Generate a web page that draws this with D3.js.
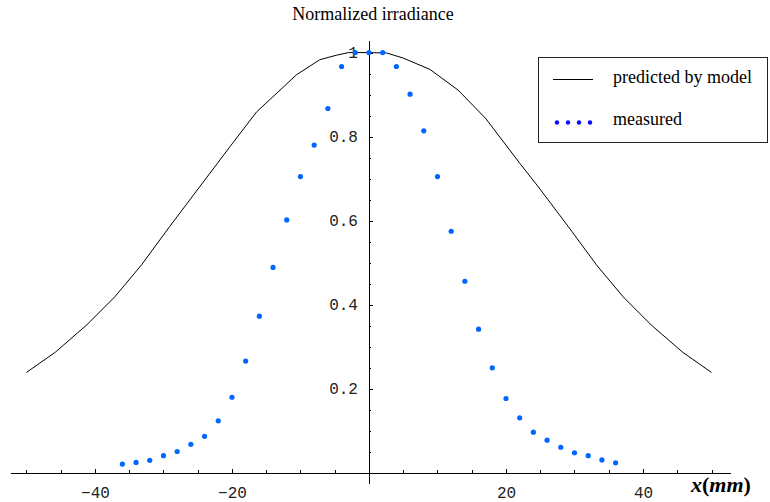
<!DOCTYPE html>
<html lang="en">
<head>
    <meta charset="utf-8">
    <title>Normalized irradiance</title>
    <style>
    html, body {
        margin: 0;
        background-color: white;
    }

    svg {
        background-color: white;
        display: block;
    }

    .axis path, .axis line {
        stroke: #000;
        shape-rendering: crispEdges;
    }

    .axis text {
        font-family: 'Liberation Mono', 'DejaVu Sans Mono', monospace;
        font-size: 16px;
        fill: #222;
    }

    .serif {
        font-family: 'Liberation Serif', 'Times New Roman', serif;
        fill: #000;
    }
    </style>
</head>
<body>
<div id="vis"></div>

<script src="https://d3js.org/d3.v7.min.js"></script>
<script>
var modelX = [-50, -45.8, -41.2, -37.1, -33.2, -29.1, -24.7, -20.3, -16.4, -12.7, -10.6, -7.2, -4.7, -3.0, 0,
              2.6, 5.0, 8.9, 13.0, 17.0, 22.0, 24.7, 29.1, 33.2, 37.1, 41.2, 45.8, 50];
var modelY = [0.239, 0.287, 0.352, 0.419, 0.495, 0.586, 0.681, 0.776, 0.859, 0.915, 0.947, 0.983, 0.994, 1.0, 1.0,
              0.999, 0.987, 0.96, 0.911, 0.844, 0.737, 0.681, 0.586, 0.495, 0.419, 0.352, 0.287, 0.239];

// measured points
var measuredX = [-36, -34, -32, -30, -28, -26, -24, -22, -20, -18, -16, -14, -12, -10, -8, -6, -4, -2, 0,
                 2, 4, 6, 8, 10, 12, 14, 16, 18, 20, 22, 24, 26, 28, 30, 32, 34, 36];
var measuredY = [0.021, 0.025, 0.030, 0.041, 0.051, 0.068, 0.087, 0.124, 0.180, 0.266, 0.373, 0.489, 0.602,
                 0.705, 0.780, 0.867, 0.967, 1.0, 1.0,
                 1.0, 0.967, 0.901, 0.814, 0.705, 0.575, 0.456, 0.342, 0.250, 0.177, 0.131, 0.097, 0.078,
                 0.061, 0.048, 0.041, 0.031, 0.024];

var xTickLabels = [-40, -20, 20, 40];
var xMinorTicks = [-50, -45, -35, -30, -25, -15, -10, -5, 5, 10, 15, 25, 30, 35, 45, 50];
var yTickLabels = [0.2, 0.4, 0.6, 0.8, 1];
var yMinorTicks = [0.05, 0.1, 0.15, 0.25, 0.3, 0.35, 0.45, 0.5, 0.55, 0.65, 0.7, 0.75, 0.85, 0.9, 0.95];

var legendLabels = ['predicted by model', 'measured'];
var titleText = 'Normalized irradiance';

var width = 770;
var height = 502;

var svg = d3.select('#vis')
    .append('svg')
    .attr('width', width)
    .attr('height', height);

var x_scale = d3.scaleLinear()
    .domain([-52.4, 52.7])
    .range([10, 730]);

var y_scale = d3.scaleLinear()
    .domain([-0.024, 1.03])
    .range([483, 40]);

// x axis: ticks point up into the plot
svg.append('g')
    .attr('class', 'x axis')
    .attr('transform', 'translate(0,' + y_scale(0) + ')')
    .call(d3.axisBottom(x_scale)
        .tickValues(xMinorTicks)
        .tickSizeInner(-3)
        .tickSizeOuter(0)
        .tickFormat(''));

svg.append('g')
    .attr('class', 'x axis')
    .attr('transform', 'translate(0,' + y_scale(0) + ')')
    .call(d3.axisBottom(x_scale)
        .tickValues(xTickLabels)
        .tickSizeInner(-4)
        .tickSizeOuter(0)
        .tickPadding(14)
        .tickFormat(function(d) { return d < 0 ? '\u2212' + Math.abs(d) : d; }))
    .select('.domain').remove();

// y axis: ticks point right, labels on the left
svg.append('g')
    .attr('class', 'y axis')
    .attr('transform', 'translate(' + x_scale(0) + ',0)')
    .call(d3.axisLeft(y_scale)
        .tickValues(yMinorTicks)
        .tickSizeInner(-2.5)
        .tickSizeOuter(0)
        .tickFormat(''));

svg.append('g')
    .attr('class', 'y axis')
    .attr('transform', 'translate(' + x_scale(0) + ',0)')
    .call(d3.axisLeft(y_scale)
        .tickValues(yTickLabels)
        .tickSizeInner(-4)
        .tickSizeOuter(0)
        .tickPadding(11)
        .tickFormat(function(d) { return d === 1 ? '1' : d.toFixed(1); }))
    .select('.domain').remove();

// model line
var line = d3.line()
    .x(function(d) { return x_scale(d[0]); })
    .y(function(d) { return y_scale(d[1]); });

svg.append('path')
    .datum(d3.zip(modelX, modelY))
    .attr('fill', 'none')
    .attr('stroke', '#000')
    .attr('stroke-width', 1)
    .attr('d', line);

// measured dots
svg.selectAll('.dot')
    .data(d3.zip(measuredX, measuredY))
    .enter()
    .append('circle')
    .attr('class', 'dot')
    .attr('cx', function(d) { return x_scale(d[0]); })
    .attr('cy', function(d) { return y_scale(d[1]); })
    .attr('r', 2.6)
    .attr('fill', '#0066ff');

// title and axis label
svg.append('text')
    .attr('class', 'serif')
    .attr('x', 373)
    .attr('y', 20)
    .attr('text-anchor', 'middle')
    .style('font-size', '18px')
    .text(titleText);

var xlab = svg.append('text')
    .attr('class', 'serif')
    .attr('x', 691)
    .attr('y', 492)
    .style('font-size', '22px')
    .style('font-weight', 'bold')
    .style('font-style', 'italic');
xlab.append('tspan').text('x');
xlab.append('tspan').style('font-style', 'normal').text('(');
xlab.append('tspan').text('mm');
xlab.append('tspan').style('font-style', 'normal').text(')');

// legend
var legend = svg.append('g')
    .attr('class', 'legend');

legend.append('rect')
    .attr('x', 538.5)
    .attr('y', 57.5)
    .attr('width', 229)
    .attr('height', 85)
    .attr('fill', 'white')
    .attr('stroke', '#222');

legend.append('line')
    .attr('x1', 553)
    .attr('x2', 593)
    .attr('y1', 79.5)
    .attr('y2', 79.5)
    .attr('stroke', '#000');

legend.selectAll('.legend-dot')
    .data([557, 568, 579, 590])
    .enter()
    .append('circle')
    .attr('class', 'legend-dot')
    .attr('cx', function(d) { return d; })
    .attr('cy', 122.5)
    .attr('r', 2.2)
    .attr('fill', '#0a0aff');

legend.selectAll('.legend-text')
    .data(legendLabels)
    .enter()
    .append('text')
    .attr('class', 'serif legend-text')
    .attr('x', 613)
    .attr('y', function(d, i) { return 83 + i * 42; })
    .style('font-size', '18px')
    .text(function(d) { return d; });
</script>
</body>
</html>
